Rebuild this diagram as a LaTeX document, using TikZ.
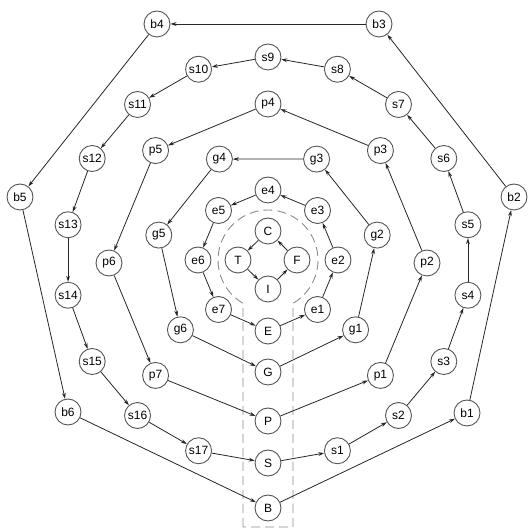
\documentclass[tikz,border=0pt]{standalone}
\usepackage{fontspec}
\setsansfont{Liberation Sans}
\usetikzlibrary{arrows.meta, calc}
\definecolor{ringgray}{RGB}{85, 85, 85}
\definecolor{dashgray}{RGB}{140, 140, 140}

\begin{document}
\begin{tikzpicture}[x=1pt, y=1pt,
    state/.style={circle, draw=ringgray, line width=0.9pt, fill=white,
                  minimum size=26pt, inner sep=0pt,
                  font=\sffamily\fontsize{12}{13}\selectfont},
    flow/.style={-{Stealth[length=6pt, width=3.8pt]}, line width=0.8pt, black!85},
    outline/.style={dashgray, line width=0.9pt, dash pattern=on 9pt off 5pt}]
  \useasboundingbox (0,0) rectangle (527,529);
  \coordinate (ctr) at (268,269);

  % dashed outline round the core and the start column
  \draw[outline] (243,2) -- ($(ctr)+(240:50)$)
    arc[start angle=240, end angle=-60, radius=50pt] -- (293,2) -- cycle;

  % core
  \node[state] (C) at ($(ctr)+(90:29)$) {C};
  \node[state] (T) at ($(ctr)+(180:30)$) {T};
  \node[state] (F) at ($(ctr)+(0:29)$) {F};
  \node[state] (I) at ($(ctr)+(-90:29)$) {I};

  % rings
  \node[state] (E) at ($(ctr)+(-90:71)$) {E};
  \foreach \k in {1,...,7}
    \node[state] (e\k) at ($(ctr)+({-90+45*\k}:70)$) {e\k};
  \node[state] (G) at ($(ctr)+(-90:112)$) {G};
  \foreach \k in {1,...,6}
    \node[state] (g\k) at ($(ctr)+({-90+360/7*\k}:112)$) {g\k};
  \node[state] (P) at ($(ctr)+(0,-3)+(-90:158)$) {P};
  \foreach \k in {1,...,7}
    \node[state] (p\k) at ($(ctr)+(0,-3)+({-90+45*\k}:159)$) {p\k};
  \node[state] (S) at ($(ctr)+(-90:203)$) {S};
  \foreach \k in {1,...,17}
    \node[state] (s\k) at ($(ctr)+({-90+20*\k}:203)$) {s\k};

  % outer ring
  \node[state] (B) at (268,21) {B};
  \node[state] (b1) at (467,116) {b1};
  \node[state] (b2) at (514,332) {b2};
  \node[state] (b3) at (379,505) {b3};
  \node[state] (b4) at (157,505) {b4};
  \node[state] (b5) at (20,332) {b5};
  \node[state] (b6) at (68,117) {b6};

  % core cycle
  \draw[flow] (I) -- (F);
  \draw[flow] (F) -- (C);
  \draw[flow] (C) -- (T);
  \draw[flow] (T) -- (I);

  % ring cycles
  \foreach \r/\R/\m in {e/E/7, g/G/6, p/P/7, s/S/17, b/B/6}{
    \draw[flow] (\R) -- (\r1);
    \foreach \k in {2,...,\m}{
      \pgfmathtruncatemacro{\prev}{\k-1}
      \draw[flow] (\r\prev) -- (\r\k);
    }
    \draw[flow] (\r\m) -- (\R);
  }
\end{tikzpicture}
\end{document}
